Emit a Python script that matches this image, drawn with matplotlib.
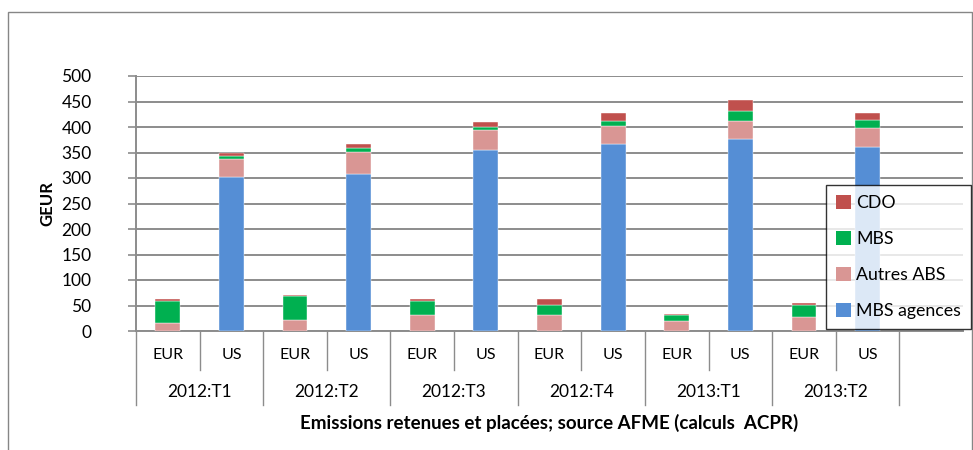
import matplotlib
matplotlib.use("Agg")
import matplotlib.pyplot as plt
import matplotlib.transforms as mtransforms
from matplotlib.patches import Rectangle, Patch
import numpy as np

plt.rcParams['font.family'] = ['Lato', 'DejaVu Sans']

# Categories: quarter groups, each with a EUR and a US issuance bar
quarters = ["2012:T1", "2012:T2", "2012:T3", "2012:T4", "2013:T1", "2013:T2"]
regions = ["EUR", "US"]

# Issuance by product (GEUR), order: T1 EUR, T1 US, T2 EUR, T2 US, ...
mbs_agences = [0, 302, 0, 308, 0, 354, 0, 366, 0, 376, 0, 360]
autres_abs = [16.5, 35, 22, 43, 31, 41, 31, 35, 19, 36, 27.5, 39]
mbs = [42.5, 6.5, 46, 8, 28, 5, 20, 11, 12, 20, 23.5, 14]
cdo = [3, 5.5, 2, 7, 3, 10, 12, 15, 3, 21, 3, 14]

series = [
    ("MBS agences", mbs_agences, "#558ED5"),
    ("Autres ABS", autres_abs, "#D99694"),
    ("MBS", mbs, "#00B050"),
    ("CDO", cdo, "#C0504D"),
]

W, H = 973, 450
fig = plt.figure(figsize=(W / 100, H / 100), dpi=100)

# Chart frame
fig.patches.append(Rectangle((8 / W, -0.05), (972 - 8) / W, 1.05 - 12 / H,
                             transform=fig.transFigure, fill=False,
                             edgecolor="#868686", linewidth=1.0))

left, right, top, bottom = 136, 963, 76, 331
ax = fig.add_axes([left / W, (H - bottom) / H, (right - left) / W, (bottom - top) / H])

n_slots = len(quarters) * len(regions) + 1
x = np.arange(len(quarters) * len(regions)) + 0.5
base = np.zeros(len(x))
for name, vals, color in series:
    vals = np.asarray(vals, dtype=float)
    ax.bar(x, vals, width=0.39, bottom=base, color=color, label=name,
           edgecolor="white", linewidth=0.3, zorder=3)
    base += vals

ax.set_xlim(0, n_slots)
ax.set_ylim(0, 500)
ax.set_yticks(np.arange(0, 501, 50))
ax.yaxis.grid(True, color="#8C8C8C", linewidth=1.4)
ax.set_axisbelow(True)
for s in ["top", "right"]:
    ax.spines[s].set_visible(False)
ax.spines["left"].set_color("#8C8C8C")
ax.spines["left"].set_linewidth(1.4)
ax.spines["bottom"].set_color("#8C8C8C")
ax.spines["bottom"].set_linewidth(1.4)
ax.tick_params(axis="y", length=6, width=1.2, color="#8C8C8C", pad=26,
               labelsize=12.5, labelcolor="black")
ax.set_xticks([])

ax.set_ylabel("GEUR", fontsize=12, fontweight="bold", labelpad=4)

# Multi-level category axis below the plot
trans = mtransforms.blended_transform_factory(ax.transData, ax.transAxes)
ph = bottom - top
short_end = -39 / ph
long_end = -74 / ph
for i in range(n_slots):
    end = long_end if i % 2 == 0 else short_end
    ax.plot([i, i], [0, end], transform=trans, color="#8C8C8C",
            linewidth=1.0, clip_on=False)

for j, xi in enumerate(x):
    ax.text(xi, -24 / ph, regions[j % 2], transform=trans, ha="center",
            va="center", fontsize=11.5)
for q, name in enumerate(quarters):
    ax.text(2 * q + 1, -61 / ph, name, transform=trans, ha="center",
            va="center", fontsize=12.5)
ax.text(0.5, -92 / ph,
        "Emissions retenues et placées; source AFME (calculs  ACPR)",
        transform=ax.transAxes, ha="center", va="center", fontsize=13.5,
        fontweight="bold")

# Legend (top entry first)
handles = [Patch(facecolor=c, edgecolor="none") for _, _, c in series][::-1]
labels = [n for n, _, _ in series][::-1]
leg = fig.legend(handles, labels, loc="upper left",
                 bbox_to_anchor=(826 / W, (H - 185) / H),
                 frameon=True, fancybox=False, fontsize=12.8,
                 handlelength=0.85, handleheight=0.85, handletextpad=0.3,
                 labelspacing=1.12, borderpad=0.55, borderaxespad=0)
leg.get_frame().set_edgecolor("black")
leg.get_frame().set_linewidth(1.0)

fig.savefig("out.png", dpi=100)
